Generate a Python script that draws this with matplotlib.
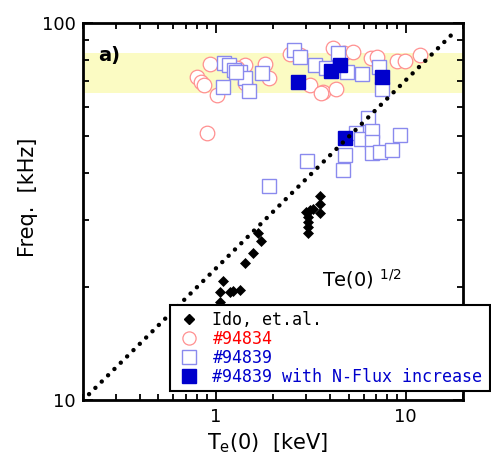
import matplotlib
matplotlib.use("Agg")
import matplotlib.pyplot as plt
import numpy as np
from matplotlib.lines import Line2D
from matplotlib.ticker import NullFormatter, FixedLocator

# ---------------- data ----------------
ido_te = [1.097, 1.053, 1.053, 1.187, 1.236, 1.349, 1.433, 1.58, 1.73, 1.68,
          3.52, 3.52, 3.25, 2.98, 3.06, 3.06, 3.06, 3.06, 3.55, 3.15]
ido_f = [20.7, 19.3, 18.2, 19.3, 19.4, 19.6, 23.1, 24.6, 26.4, 27.8,
         34.8, 33.2, 32.2, 31.6, 30.6, 29.7, 28.8, 27.8, 31.3, 32.0]

c94834_te = [0.934, 0.803, 0.835, 0.869, 1.02, 1.433, 1.82, 1.92, 2.46, 4.13,
             4.75, 5.25, 6.55, 7.09, 9.01, 9.96, 11.9, 3.66, 4.3, 0.898,
             1.433, 3.12, 2.77, 1.30, 3.59]
c94834_f = [77.8, 71.8, 69.9, 68.5, 64.4, 77.4, 77.8, 71.4, 82.6, 85.7,
            83.1, 83.9, 80.6, 81.4, 79.4, 79.4, 82.3, 65.7, 66.7, 51.0,
            69.2, 68.5, 82.2, 76.0, 65.1]

s94839_te = [1.105, 1.173, 1.245, 1.349, 1.433, 1.75, 1.097, 1.49, 1.286,
             2.59, 2.77, 3.32, 3.82, 4.39, 4.89, 5.92, 7.23, 7.53,
             1.91, 3.03, 4.66, 4.80, 6.34, 5.47, 5.79, 6.63, 6.63, 6.63,
             7.32, 8.45, 9.38]
s94839_f = [78.2, 77.4, 75.0, 74.3, 71.4, 73.6, 67.5, 66.1, 74.1,
            84.8, 81.4, 77.4, 75.8, 83.1, 74.3, 73.2, 76.6, 66.9,
            37.0, 43.1, 40.7, 44.7, 55.9, 51.0, 49.2, 51.7, 48.4, 45.1,
            45.5, 46.0, 50.5]

nflux_te = [2.72, 4.05, 4.53, 7.53, 4.80]
nflux_f = [69.9, 74.7, 77.4, 71.8, 49.4]

band_lo, band_hi = 65.2, 83.3
scale_coef = 22.3
scale_te = [0.2, 17.5]

xtick_vals = [1, 10]
xtick_labels = ["1", "10"]
ytick_vals = [10, 100]
ytick_labels = ["10", "100"]

legend_labels = ["Ido, et.al.", "#94834", "#94839", "#94839 with N-Flux increase"]

# ---------------- figure ----------------
W, H = 491, 467
fig = plt.figure(figsize=(W / 100, H / 100), dpi=100)
ax = fig.add_axes([82.7 / W, 1 - 400 / H, (463 - 82.7) / W, (400 - 23) / H])
ax.set_xscale("log")
ax.set_yscale("log")
ax.set_xlim(0.2, 20)
ax.set_ylim(10, 100)

ax.axhspan(band_lo, band_hi, color="#fbfbc3", zorder=0, lw=0)

ms = 10.5
circ_col = "#ff9090"
sq_col = "#8a8aee"
fill_col = "#0000cc"

ax.plot(c94834_te, c94834_f, ls="none", marker="o", ms=ms, mfc="white",
        mec=circ_col, mew=0.9, zorder=2)
ax.plot(s94839_te, s94839_f, ls="none", marker="s", ms=ms, mfc="white",
        mec=sq_col, mew=1.0, zorder=3)
ax.plot(nflux_te, nflux_f, ls="none", marker="s", ms=ms, mfc=fill_col,
        mec=fill_col, mew=1.0, zorder=4)
ax.plot(ido_te, ido_f, ls="none", marker="D", ms=5.5, mfc="black",
        mec="black", mew=0.5, zorder=5)

te_line = np.array(scale_te)
ax.plot(te_line, scale_coef * np.sqrt(te_line), color="black", lw=3.2,
        ls=(0, (0.01, 2.0)), dash_capstyle="round", zorder=6)

# ticks
ax.xaxis.set_major_locator(FixedLocator(xtick_vals))
ax.yaxis.set_major_locator(FixedLocator(ytick_vals))
ax.set_xticklabels(xtick_labels)
ax.set_yticklabels(ytick_labels)
ax.xaxis.set_minor_formatter(NullFormatter())
ax.yaxis.set_minor_formatter(NullFormatter())
ax.tick_params(which="both", direction="in", top=True, right=True,
               width=1.3, labelsize=13)
ax.tick_params(which="major", length=7)
ax.tick_params(which="minor", length=4)
ax.tick_params(axis="x", pad=6)
ax.tick_params(axis="y", pad=5)
for sp in ax.spines.values():
    sp.set_linewidth(2)

ax.set_xlabel(r"T$_\mathrm{e}$(0)  [keV]", fontsize=15)
ax.set_ylabel("Freq.  [kHz]", fontsize=15)
ax.xaxis.set_label_coords((268 - 82.7) / (463 - 82.7), -(431 - 400) / (400 - 23))
ax.yaxis.set_label_coords(-(82.7 - 38) / (463 - 82.7), (400 - 197) / (400 - 23))

ax.text(0.04, 0.915, "a)", transform=ax.transAxes, fontsize=14,
        fontweight="bold", ha="left", va="center")
ax.text(0.63, 0.32, r"Te(0) $^{1/2}$", transform=ax.transAxes, fontsize=14,
        ha="left", va="center")

handles = [
    Line2D([], [], ls="none", marker="D", ms=5.5, mfc="black", mec="black"),
    Line2D([], [], ls="none", marker="o", ms=9.5, mfc="white", mec=circ_col, mew=0.9),
    Line2D([], [], ls="none", marker="s", ms=9.5, mfc="white", mec=sq_col, mew=1.0),
    Line2D([], [], ls="none", marker="s", ms=9.5, mfc=fill_col, mec=fill_col),
]
leg = fig.legend(handles, legend_labels, loc="upper left",
                 bbox_to_anchor=(170 / W, 1 - 310 / H, (490 - 170) / W, 0.01),
                 mode="expand", prop={"family": "DejaVu Sans Mono", "size": 12},
                 frameon=True, fancybox=False, framealpha=1, edgecolor="black",
                 borderpad=0.35, labelspacing=0.05, handletextpad=0.6,
                 handlelength=1.6, borderaxespad=0)
leg.get_frame().set_linewidth(1.5)
cols = ["black", "red", "#0000cc", "#0000cc"]
for t, c in zip(leg.get_texts(), cols):
    t.set_color(c)

fig.savefig("out.png", dpi=100)
